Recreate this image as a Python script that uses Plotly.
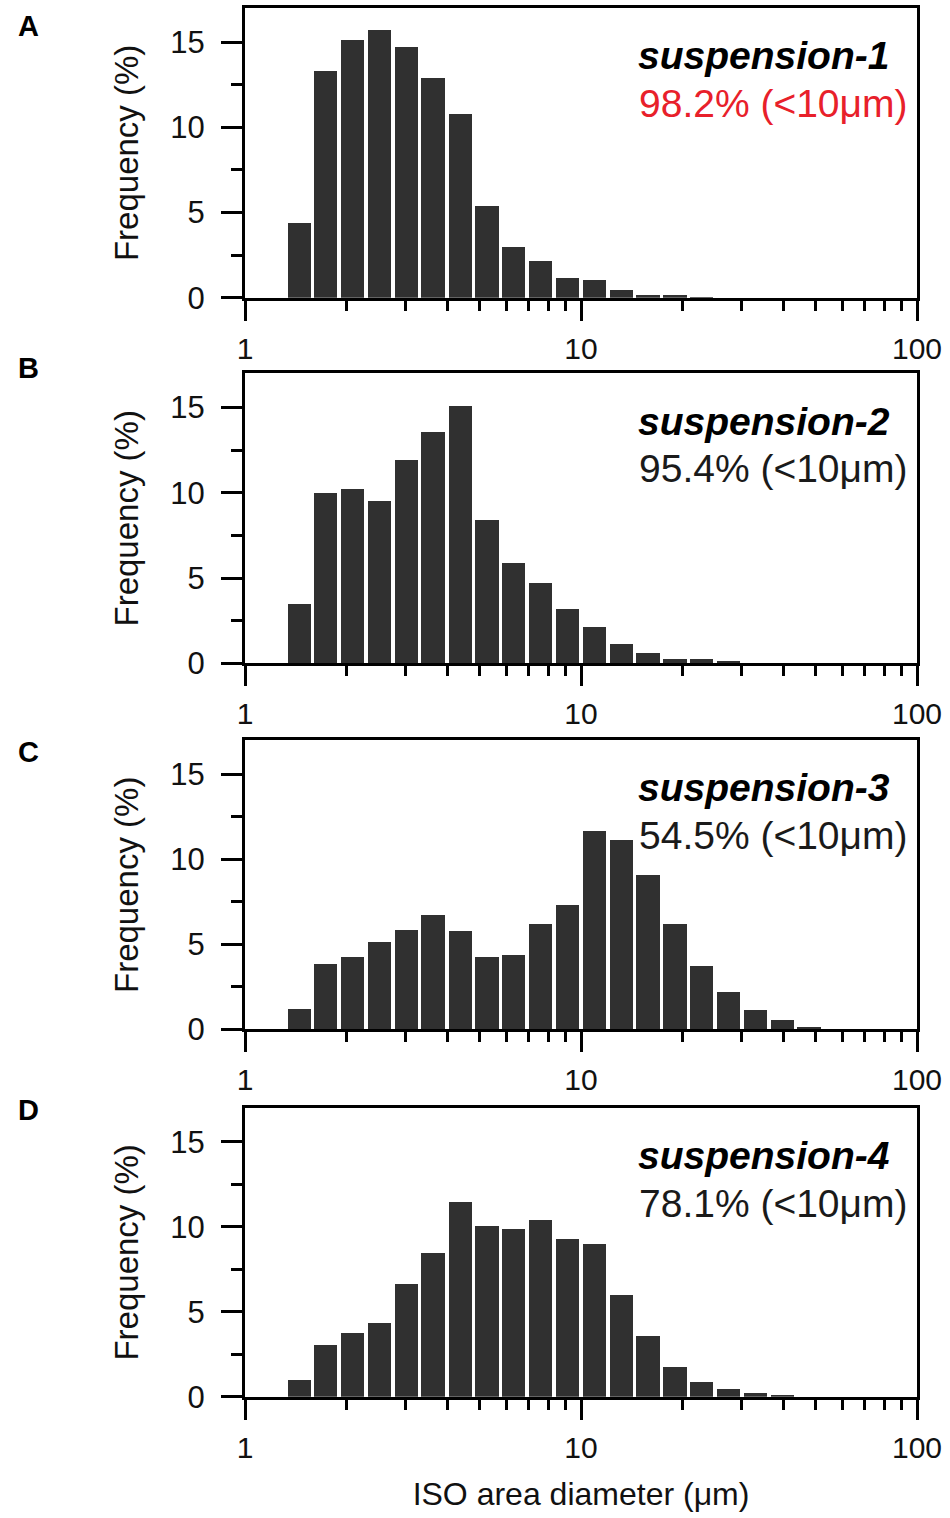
import plotly.graph_objects as go

# size classes (ISO area diameter, um) - centres
bin_centers = [1.45, 1.74, 2.09, 2.51, 3.02, 3.63, 4.37, 5.25, 6.31, 7.59,
               9.12, 10.96, 13.17, 15.83, 19.03, 22.88, 27.5, 33.05, 39.73, 47.75]

# frequency (%) per class, one list per suspension
freq_susp1 = [4.4, 13.3, 15.1, 15.7, 14.7, 12.9, 10.8, 5.4, 3.0, 2.15,
              1.15, 1.05, 0.45, 0.16, 0.13, 0.04]
freq_susp2 = [3.47, 9.96, 10.2, 9.47, 11.9, 13.56, 15.06, 8.37, 5.88, 4.7,
              3.18, 2.12, 1.14, 0.59, 0.24, 0.26, 0.1]
freq_susp3 = [1.2, 3.83, 4.22, 5.13, 5.82, 6.68, 5.76, 4.25, 4.38, 6.19,
              7.31, 11.66, 11.1, 9.06, 6.19, 3.69, 2.16, 1.14, 0.55, 0.14]
freq_susp4 = [0.98, 3.07, 3.77, 4.36, 6.64, 8.46, 11.46, 10.06, 9.86, 10.41,
              9.31, 9.02, 6.0, 3.57, 1.76, 0.84, 0.43, 0.23, 0.12]

names = ["suspension-1", "suspension-2", "suspension-3", "suspension-4"]
fine_text = ["98.2% (<10μm)", "95.4% (<10μm)", "54.5% (<10μm)", "78.1% (<10μm)"]
fine_colors = ["#e8202a", "#1a1a1a", "#1a1a1a", "#1a1a1a"]
letters = ["A", "B", "C", "D"]

y_ticks = [0, 5, 10, 15]
x_ticks = [1, 10, 100]
x_ticktext = ["1", "10", "100"]
x_minor = [2, 3, 4, 5, 6, 7, 8, 9, 20, 30, 40, 50, 60, 70, 80, 90]

W, H = 950, 1518
FONT = "Liberation Sans, Arial, sans-serif"
BAR = "#303030"

# pixel frame of each panel (left/right shared)
left_px, right_px = 245, 917
tops = [8, 373.3, 740.3, 1108]
bottoms = [297.7, 663.3, 1029.3, 1396.7]
letter_y = [26, 368, 752, 1110]

half = 0.0347  # half bar width in decades
series = [freq_susp1, freq_susp2, freq_susp3, freq_susp4]

fig = go.Figure()
for i, freq in enumerate(series):
    n = i + 1
    sfx = "" if n == 1 else str(n)
    xs = bin_centers[:len(freq)]
    offs = [c / 10**half - c for c in xs]
    wids = [c * (10**half - 10**-half) for c in xs]
    fig.add_trace(go.Bar(x=xs, y=freq, offset=offs, width=wids,
                         marker=dict(color=BAR, line=dict(width=0)),
                         xaxis=f"x{sfx}", yaxis=f"y{sfx}", showlegend=False))

    xdom = [left_px / W, right_px / W]
    ydom = [1 - bottoms[i] / H, 1 - tops[i] / H]
    xa = dict(domain=xdom, type="log", range=[0, 2], anchor=f"y{sfx}",
              automargin=False,
              showline=True, linecolor="black", linewidth=3, mirror=True,
              ticks="outside", ticklen=20, tickwidth=3, tickcolor="black",
              tickvals=x_ticks, ticktext=x_ticktext, ticklabelstandoff=2,
              tickfont=dict(family=FONT, size=30, color="#111"),
              minor=dict(tickvals=x_minor, ticks="outside", ticklen=10,
                         tickwidth=3, tickcolor="black"),
              showgrid=False, zeroline=False, fixedrange=True)
    if n == 4:
        xa["title"] = dict(text="ISO area diameter (μm)", standoff=20,
                           font=dict(family=FONT, size=32, color="#111"))
    ya = dict(domain=ydom, range=[0, 17], anchor=f"x{sfx}",
              automargin=False,
              showline=True, linecolor="black", linewidth=3, mirror=True,
              ticks="outside", ticklen=21, tickwidth=3, tickcolor="black",
              tickvals=y_ticks, ticklabelstandoff=10,
              tickfont=dict(family=FONT, size=31, color="#111"),
              minor=dict(dtick=2.5, ticks="outside", ticklen=11,
                         tickwidth=3, tickcolor="black"),
              title=dict(text="Frequency (%)", standoff=22,
                         font=dict(family=FONT, size=33, color="#111")),
              showgrid=False, zeroline=False, fixedrange=True)
    fig.update_layout(**{f"xaxis{sfx}": xa, f"yaxis{sfx}": ya})

    fig.add_annotation(xref=f"x{sfx} domain", yref=f"y{sfx} domain",
                       x=(636 - left_px) / (right_px - left_px), y=0.835,
                       xanchor="left", yanchor="middle", showarrow=False,
                       text=f"<b><i>{names[i]}</i></b>",
                       font=dict(family=FONT, size=39, color="black"))
    fig.add_annotation(xref=f"x{sfx} domain", yref=f"y{sfx} domain",
                       x=(637 - left_px) / (right_px - left_px), y=0.67,
                       xanchor="left", yanchor="middle", showarrow=False,
                       text=fine_text[i],
                       font=dict(family=FONT, size=39, color=fine_colors[i]))
    fig.add_annotation(xref="paper", yref="paper", x=28 / W, y=1 - letter_y[i] / H,
                       xanchor="center", yanchor="middle", showarrow=False,
                       text=f"<b>{letters[i]}</b>",
                       font=dict(family=FONT, size=29, color="black"))

fig.update_layout(width=W, height=H,
                  margin=dict(l=0, r=0, t=0, b=0, autoexpand=False),
                  paper_bgcolor="white", plot_bgcolor="white",
                  bargap=0, showlegend=False)

# drop the default page margin so the figure sits at the window origin
fig.write_html("out.html", config={"displayModeBar": False},
               post_script="document.body.style.margin='0';")
